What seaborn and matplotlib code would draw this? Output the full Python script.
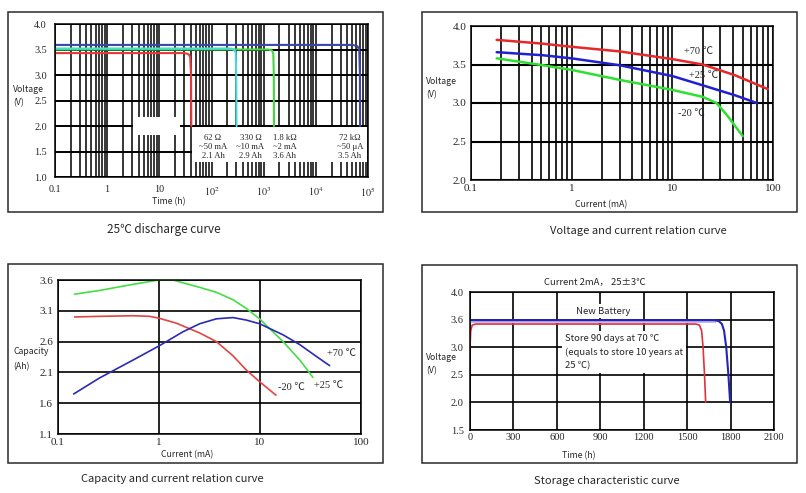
import numpy as np
import seaborn as sns
import matplotlib.pyplot as plt
from matplotlib.patches import Rectangle
from matplotlib.ticker import LogLocator, NullFormatter, NullLocator

sns.set_style("white")
plt.rcParams['font.family'] = ['Noto Sans CJK SC', 'DejaVu Sans']
plt.rcParams['mathtext.fontset'] = 'stix'

SANS = ['Noto Sans CJK SC', 'DejaVu Sans']
SERIF = ['Liberation Serif', 'Noto Sans CJK SC']

# ---- 25C discharge curve: time (h) vs voltage (V) ----
dis_red_t = [0.1, 30, 36, 39, 40.5, 41]
dis_red_v = [3.43, 3.43, 3.41, 3.36, 3.0, 2.0]
dis_cyan_t = [0.1, 230, 270, 290, 298, 302]
dis_cyan_v = [3.52, 3.52, 3.50, 3.45, 3.0, 2.0]
dis_green_t = [0.1, 1250, 1450, 1530, 1565, 1575]
dis_green_v = [3.50, 3.50, 3.48, 3.42, 3.0, 2.0]
dis_blue_t = [0.1, 50000, 62000, 68000, 70000, 70500]
dis_blue_v = [3.59, 3.59, 3.57, 3.50, 3.0, 2.0]
dis_loads = ["62 Ω\n~50 mA\n2.1 Ah", "330 Ω\n~10 mA\n2.9 Ah",
             "1.8 kΩ\n~2 mA\n3.6 Ah", "72 kΩ\n~50 μA\n3.5 Ah"]
dis_xticks = [0.1, 1, 10, 100, 1000, 1e4, 1e5]
dis_xlabels = ['0.1', '1', '10', '$10^2$', '$10^3$', '$10^4$', '$10^5$']

# ---- voltage vs current ----
vc_i = [0.18, 0.52, 1.0, 3.0, 10, 20, 42, 89]
vc_70 = [3.82, 3.77, 3.73, 3.67, 3.57, 3.50, 3.36, 3.18]
vc_25_i = [0.18, 0.52, 1.0, 3.0, 10, 20, 42, 69]
vc_25 = [3.66, 3.62, 3.58, 3.49, 3.35, 3.23, 3.10, 3.00]
vc_m20_i = [0.18, 0.52, 1.0, 3.0, 10, 20, 27.5, 35, 50]
vc_m20 = [3.58, 3.49, 3.43, 3.30, 3.17, 3.08, 3.00, 2.84, 2.57]

# ---- capacity vs current ----
cap_25_i = [0.146, 0.258, 0.553, 1.0, 1.37, 2.53, 3.7, 5.4, 7.3, 9.9, 13.4, 16.9, 24.8, 33.4]
cap_25 = [3.37, 3.43, 3.53, 3.60, 3.60, 3.48, 3.40, 3.28, 3.14, 2.97, 2.76, 2.60, 2.30, 2.02]
cap_m20_i = [0.146, 0.258, 0.553, 0.81, 1.0, 1.48, 2.53, 3.7, 5.4, 7.3, 9.9, 14.4]
cap_m20 = [3.00, 3.01, 3.02, 3.01, 2.98, 2.90, 2.74, 2.60, 2.37, 2.14, 1.95, 1.73]
cap_70_i = [0.143, 0.258, 0.553, 1.0, 1.73, 2.53, 3.7, 5.4, 7.3, 9.9, 16.9, 24.8, 36.1, 48.9]
cap_70 = [1.75, 2.01, 2.30, 2.53, 2.76, 2.89, 2.97, 2.99, 2.95, 2.89, 2.71, 2.55, 2.36, 2.21]

# ---- storage characteristic ----
st_new_t = [0, 1690, 1720, 1740, 1755, 1770, 1785, 1797]
st_new_v = [3.49, 3.49, 3.47, 3.42, 3.30, 3.00, 2.50, 2.00]
st_old_t = [0, 5, 15, 40, 1560, 1585, 1600, 1610, 1620, 1628]
st_old_v = [3.00, 3.30, 3.40, 3.42, 3.42, 3.40, 3.30, 3.00, 2.50, 2.00]
st_band_t = [0, 1700]
st_band_lo = [3.44, 3.44]
st_band_hi = [3.49, 3.49]
st_yticks = [1.5, 2.0, 2.5, 3.0, 3.5, 4.0]
st_ylabels = ['1.5', '2.0', '2.5', '3.0', '3.6', '4.0']

W, H = 806, 493
fig = plt.figure(figsize=(W / 100, H / 100), dpi=100)


def px_axes(l, t, r, b):
    return fig.add_axes([l / W, 1 - b / H, (r - l) / W, (b - t) / H])


def px_text(x, y, s, **kw):
    fig.text(x / W, 1 - y / H, s, **kw)


def frame(x0, y0, x1, y1):
    fig.add_artist(Rectangle((x0 / W, 1 - y1 / H), (x1 - x0) / W, (y1 - y0) / H,
                             transform=fig.transFigure, fill=False,
                             ec='#2a2a2a', lw=1.1))


def style(ax, size, xpad, ypad):
    ax.set_axisbelow(True)
    for s in ax.spines.values():
        s.set_visible(True)
        s.set_color('black')
        s.set_linewidth(1.1)
    ax.tick_params(length=0, labelsize=size, pad=xpad, axis='x')
    ax.tick_params(length=0, labelsize=size, pad=ypad, axis='y')
    for lab in ax.get_xticklabels() + ax.get_yticklabels():
        lab.set_family(SERIF)
    ax.set_xlabel('')
    ax.set_ylabel('')


def line(ax, x, y, c, lw):
    sns.lineplot(x=x, y=y, ax=ax, color=c, lw=lw, estimator=None, sort=False, legend=False)


# ================= panel 1 =================
frame(8, 12, 383, 212)
ax1 = px_axes(55, 24, 368, 177)
ax1.set_xscale('log')
for t, v, c in [(dis_green_t, dis_green_v, '#3fd83f'), (dis_cyan_t, dis_cyan_v, '#45dcdc'),
                (dis_red_t, dis_red_v, '#e8383c'), (dis_blue_t, dis_blue_v, '#3a46a8')]:
    line(ax1, t, v, c, 1.5)
ax1.set_xlim(0.1, 1e5)
ax1.set_ylim(1.0, 4.0)
ax1.xaxis.set_minor_locator(LogLocator(base=10, subs=np.arange(2, 10), numticks=20))
ax1.xaxis.set_minor_formatter(NullFormatter())
ax1.set_xticks(dis_xticks)
ax1.set_xticklabels(dis_xlabels)
ax1.set_yticks(np.arange(1.0, 4.01, 0.5))
ax1.set_yticklabels(['%.1f' % v for v in np.arange(1.0, 4.01, 0.5)])
ax1.grid(True, which='both', axis='x', color='black', lw=1.1)
ax1.grid(True, which='major', axis='y', color='black', lw=1.4)
style(ax1, 7.3, 6, 6)
ax1.add_patch(Rectangle((3.1, 1.82), 24.8 - 3.1, 0.36, fc='white', ec='none', zorder=1.5))
ax1.add_patch(Rectangle((42, 1.30), 9.4e4 - 42, 0.68, fc='white', ec='none', zorder=1.5))
for xpos, s in zip([107, 560, 2550, 45000], dis_loads):
    ax1.text(xpos, 1.59, s, ha='center', va='center', fontsize=6.2, linespacing=1.15,
             family=SERIF, zorder=3)
px_text(13, 89, 'Voltage', fontsize=6.3, va='center', ha='left', family=SANS)
px_text(13, 103, '(V)', fontsize=6.3, va='center', ha='left', family=SANS)
px_text(169, 202, 'Time (h)', fontsize=6.3, va='center', ha='center', family=SANS)
px_text(164, 229, '25℃ discharge curve', fontsize=8.4, va='center', ha='center', family=SANS)

# ================= panel 2 =================
frame(422, 12, 797, 212)
ax2 = px_axes(471, 26, 773, 180)
ax2.set_xscale('log')
line(ax2, vc_i, vc_70, '#e82828', 1.8)
line(ax2, vc_25_i, vc_25, '#2020d0', 1.8)
line(ax2, vc_m20_i, vc_m20, '#30e030', 1.8)
ax2.set_xlim(0.1, 100)
ax2.set_ylim(2.0, 4.0)
ax2.xaxis.set_minor_locator(LogLocator(base=10, subs=np.arange(2, 10), numticks=20))
ax2.xaxis.set_minor_formatter(NullFormatter())
ax2.set_xticks([0.1, 1, 10, 100])
ax2.set_xticklabels(['0.1', '1', '10', '100'])
ax2.set_yticks(np.arange(2.0, 4.01, 0.5))
ax2.set_yticklabels(['%.1f' % v for v in np.arange(2.0, 4.01, 0.5)])
ax2.grid(True, which='both', axis='x', color='black', lw=1.2)
ax2.grid(True, which='major', axis='y', color='black', lw=1.5)
style(ax2, 8, 3, 3.5)
px_text(684, 52, '+70 ℃', fontsize=7.5, va='center', ha='left', family=SERIF)
px_text(689, 75, '+25 ℃', fontsize=7.5, va='center', ha='left', family=SERIF)
px_text(678, 113, '-20 ℃', fontsize=7.5, va='center', ha='left', family=SERIF)
px_text(426, 81, 'Voltage', fontsize=6.3, va='center', ha='left', family=SANS)
px_text(426, 95, '(V)', fontsize=6.3, va='center', ha='left', family=SANS)
px_text(601, 205, 'Current (mA)', fontsize=6.3, va='center', ha='center', family=SANS)
px_text(638, 231, 'Voltage and current relation curve', fontsize=8, va='center',
        ha='center', family=SANS)

# ================= panel 3 =================
frame(8, 264, 383, 463)
ax3 = px_axes(58, 280, 361, 434)
ax3.set_xscale('log')
line(ax3, cap_25_i, cap_25, '#44dd44', 1.2)
line(ax3, cap_m20_i, cap_m20, '#e04444', 1.2)
line(ax3, cap_70_i, cap_70, '#2a2ab4', 1.2)
ax3.set_xlim(0.1, 100)
ax3.set_ylim(1.1, 3.6)
ax3.xaxis.set_minor_locator(NullLocator())
ax3.set_xticks([0.1, 1, 10, 100])
ax3.set_xticklabels(['0.1', '1', '10', '100'])
cap_ticks = [1.1, 1.6, 2.1, 2.6, 3.1, 3.6]
ax3.set_yticks(cap_ticks)
ax3.set_yticklabels(['%.1f' % v for v in cap_ticks])
ax3.grid(True, which='major', axis='both', color='black', lw=1.2)
style(ax3, 8, 3, 3.5)
px_text(327, 353, '+70 ℃', fontsize=7.5, va='center', ha='left', family=SERIF)
px_text(278, 388, '-20 ℃', fontsize=7.5, va='center', ha='left', family=SERIF)
px_text(314, 385, '+25 ℃', fontsize=7.5, va='center', ha='left', family=SERIF)
px_text(13, 352, 'Capacity', fontsize=6.3, va='center', ha='left', family=SANS)
px_text(13, 367, '(Ah)', fontsize=6.3, va='center', ha='left', family=SANS)
px_text(187, 455, 'Current (mA)', fontsize=6.3, va='center', ha='center', family=SANS)
px_text(172, 479, 'Capacity and current relation curve', fontsize=8, va='center',
        ha='center', family=SANS)

# ================= panel 4 =================
frame(422, 265, 797, 463)
ax4 = px_axes(470, 292, 774, 430)
ax4.fill_between(st_band_t, st_band_lo, st_band_hi, color='#c4bcf0', lw=0, zorder=1.8)
line(ax4, st_new_t, st_new_v, '#2424b8', 1.5)
line(ax4, st_old_t, st_old_v, '#e0303c', 1.2)
ax4.set_xlim(0, 2100)
ax4.set_ylim(1.5, 4.0)
ax4.set_xticks(np.arange(0, 2101, 300))
ax4.set_xticklabels([str(v) for v in np.arange(0, 2101, 300)])
ax4.set_yticks(st_yticks)
ax4.set_yticklabels(st_ylabels)
ax4.grid(True, which='major', axis='both', color='black', lw=1.2)
style(ax4, 7.5, 2, 4.5)
px_text(603, 311, 'New Battery', fontsize=6.8, va='center', ha='center', family=SANS,
        bbox=dict(fc='white', ec='none', pad=1.5))
px_text(565, 352, 'Store 90 days at 70 ℃\n(equals to store 10 years at\n25 ℃)',
        fontsize=6.8, va='center', ha='left', linespacing=1.6, family=SANS,
        bbox=dict(fc='white', ec='none', pad=2))
px_text(595, 282, 'Current 2mA， 25±3℃', fontsize=6.8, va='center', ha='center', family=SANS)
px_text(426, 357, 'Voltage', fontsize=6.3, va='center', ha='left', family=SANS)
px_text(426, 371, '(V)', fontsize=6.3, va='center', ha='left', family=SANS)
px_text(579, 456, 'Time (h)', fontsize=6.3, va='center', ha='center', family=SANS)
px_text(607, 481, 'Storage characteristic curve', fontsize=8, va='center',
        ha='center', family=SANS)

fig.savefig('out.png', dpi=100, facecolor='white')
